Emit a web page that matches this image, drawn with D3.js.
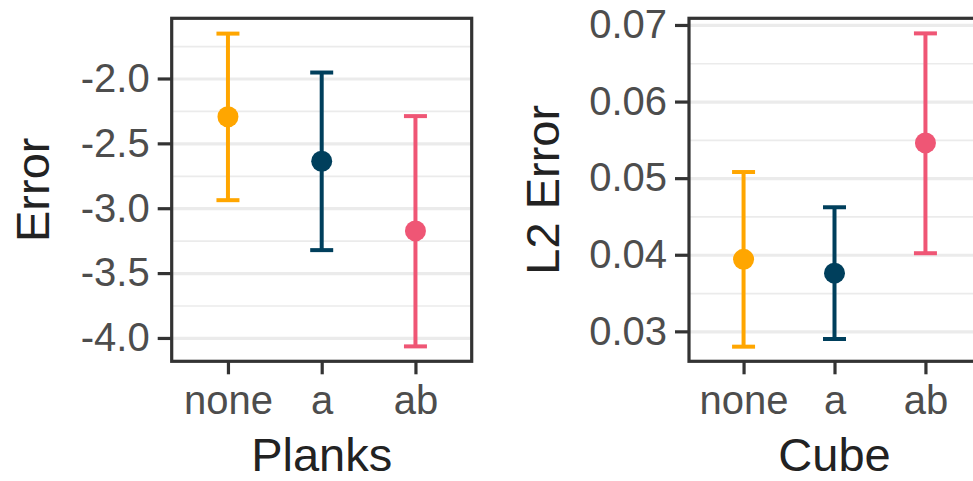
<!DOCTYPE html>
<html lang="en">
  <head>
    <meta charset="UTF-8" />
    <title>Error bars</title>
    <style>
      body { margin: 0; background: #fff; }
      text { font-family: "Liberation Sans", Arial, sans-serif; }
    </style>
  </head>
  <body>
    <svg id="svg" width="973" height="481"></svg>

    <script src="https://cdn.jsdelivr.net/npm/d3@7"></script>
    <script>
      const WIDTH = 973;
      const HEIGHT = 481;

      const CATEGORIES = ["none", "a", "ab"];
      const COLORS = ["#ffa600", "#003f5c", "#ef5675"];

      // Planks panel
      const PLANK_MEAN = [-2.295, -2.638, -3.175];
      const PLANK_LOW = [-2.938, -3.323, -4.065];
      const PLANK_HIGH = [-1.654, -1.954, -2.29];
      const PLANK_TICKS = [-4.0, -3.5, -3.0, -2.5, -2.0];
      const PLANK_MINOR = [-3.75, -3.25, -2.75, -2.25, -1.75];

      // Cube panel
      const CUBE_MEAN = [0.0394, 0.0376, 0.0546];
      const CUBE_LOW = [0.028, 0.029, 0.0402];
      const CUBE_HIGH = [0.0508, 0.0462, 0.0689];
      const CUBE_TICKS = [0.03, 0.04, 0.05, 0.06, 0.07];
      const CUBE_MINOR = [0.035, 0.045, 0.055, 0.065];

      const TOP = 18.3;
      const BOTTOM = 361.3;

      const svg = d3.select("#svg");

      // plain hyphen for negatives, like the original plot
      const fmtLocale = d3.formatLocale({
        decimal: ".",
        thousands: ",",
        grouping: [3],
        currency: ["", ""],
        minus: "-",
      });

      function drawPanel(opts) {
        const x = d3
          .scalePoint()
          .domain(CATEGORIES)
          .range([opts.left, opts.right])
          .padding(0.6);

        const y = d3
          .scaleLinear()
          .domain(opts.yDomain)
          .range([BOTTOM, TOP]);

        const g = svg.append("g");
        const panelW = opts.right - opts.left;

        // minor gridlines
        g.append("g")
          .attr("transform", `translate(${opts.left}, 0)`)
          .call(d3.axisLeft(y).tickValues(opts.minor).tickSize(-panelW).tickFormat(""))
          .call((a) => a.select(".domain").remove())
          .call((a) => a.selectAll("line").attr("stroke", "#ebebeb").attr("stroke-width", 1.7));

        // major gridlines
        g.append("g")
          .attr("transform", `translate(${opts.left}, 0)`)
          .call(d3.axisLeft(y).tickValues(opts.ticks).tickSize(-panelW).tickFormat(""))
          .call((a) => a.select(".domain").remove())
          .call((a) => a.selectAll("line").attr("stroke", "#ebebeb").attr("stroke-width", 3.2));

        // error bars
        const bars = g
          .selectAll(".bar")
          .data(CATEGORIES)
          .join("g")
          .attr("class", "bar")
          .attr("stroke", (d, i) => COLORS[i])
          .attr("stroke-width", 4);

        bars
          .append("line")
          .attr("x1", (d) => x(d))
          .attr("x2", (d) => x(d))
          .attr("y1", (d, i) => y(opts.low[i]))
          .attr("y2", (d, i) => y(opts.high[i]));

        bars
          .append("line")
          .attr("x1", (d) => x(d) - 11.5)
          .attr("x2", (d) => x(d) + 11.5)
          .attr("y1", (d, i) => y(opts.high[i]))
          .attr("y2", (d, i) => y(opts.high[i]));

        bars
          .append("line")
          .attr("x1", (d) => x(d) - 11.5)
          .attr("x2", (d) => x(d) + 11.5)
          .attr("y1", (d, i) => y(opts.low[i]))
          .attr("y2", (d, i) => y(opts.low[i]));

        g.selectAll(".pt")
          .data(CATEGORIES)
          .join("circle")
          .attr("class", "pt")
          .attr("cx", (d) => x(d))
          .attr("cy", (d, i) => y(opts.mean[i]))
          .attr("r", 10.5)
          .attr("fill", (d, i) => COLORS[i]);

        // panel border
        g.append("rect")
          .attr("x", opts.left)
          .attr("y", TOP)
          .attr("width", panelW)
          .attr("height", BOTTOM - TOP)
          .attr("fill", "none")
          .attr("stroke", "#333333")
          .attr("stroke-width", 3.2);

        // left axis
        const leftAxis = g
          .append("g")
          .attr("transform", `translate(${opts.left}, 0)`)
          .call(
            d3.axisLeft(y).tickValues(opts.ticks).tickSize(14).tickPadding(8).tickFormat(opts.fmt)
          );
        leftAxis.select(".domain").remove();
        leftAxis.selectAll("line").attr("stroke", "#333333").attr("stroke-width", 3.2);
        leftAxis
          .selectAll("text")
          .attr("fill", "#4d4d4d")
          .style("font-size", "40px")
          .style("font-family", "'Liberation Sans', Arial, sans-serif");

        // bottom axis
        const bottomAxis = g
          .append("g")
          .attr("transform", `translate(0, ${BOTTOM})`)
          .call(d3.axisBottom(x).tickSize(13).tickPadding(11));
        bottomAxis.select(".domain").remove();
        bottomAxis.selectAll("line").attr("stroke", "#333333").attr("stroke-width", 3.2);
        bottomAxis
          .selectAll("text")
          .attr("fill", "#4d4d4d")
          .style("font-size", "40px")
          .style("font-family", "'Liberation Sans', Arial, sans-serif");

        // axis titles
        g.append("text")
          .attr("x", (opts.left + opts.right) / 2)
          .attr("y", 471)
          .attr("text-anchor", "middle")
          .attr("fill", "#222")
          .style("font-size", "47px")
          .text(opts.xTitle);

        g.append("text")
          .attr("transform", `translate(${opts.yTitleX}, ${(TOP + BOTTOM) / 2}) rotate(-90)`)
          .attr("text-anchor", "middle")
          .attr("fill", "#222")
          .style("font-size", "47px")
          .text(opts.yTitle);
      }

      drawPanel({
        left: 171.7,
        right: 471.7,
        yDomain: [-4.18, -1.536],
        ticks: PLANK_TICKS,
        minor: PLANK_MINOR,
        mean: PLANK_MEAN,
        low: PLANK_LOW,
        high: PLANK_HIGH,
        fmt: fmtLocale.format(".1f"),
        xTitle: "Planks",
        yTitle: "Error",
        yTitleX: 49,
      });

      drawPanel({
        left: 689,
        right: 980,
        yDomain: [0.02609, 0.07087],
        ticks: CUBE_TICKS,
        minor: CUBE_MINOR,
        mean: CUBE_MEAN,
        low: CUBE_LOW,
        high: CUBE_HIGH,
        fmt: fmtLocale.format(".2f"),
        xTitle: "Cube",
        yTitle: "L2 Error",
        yTitleX: 559,
      });
    </script>
  </body>
</html>
